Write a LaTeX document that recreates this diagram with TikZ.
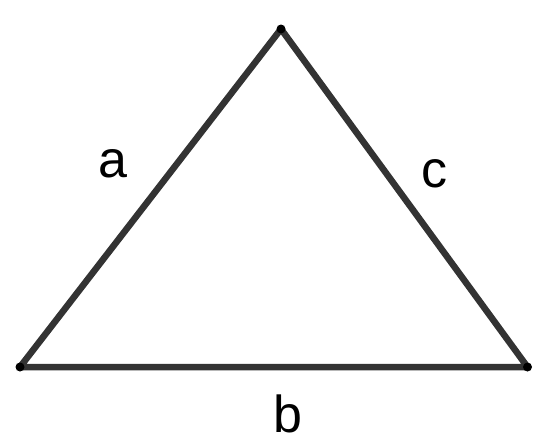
\documentclass[tikz,border=0pt]{standalone}
\usepackage{fontspec}
\setmainfont{Liberation Sans}
\definecolor{edgegray}{HTML}{333333}
\begin{document}
\begin{tikzpicture}[x=1pt, y=-1pt]
		\useasboundingbox (0,0) rectangle (548,447);
		\tikzset{
			side/.style={edgegray, line width=6.5pt, line join=round},
			corner/.style={black},
			lbl/.style={anchor=base, inner sep=0pt, font=\fontsize{52}{52}\selectfont}
		}

		\coordinate (l) at (20,367);
		\coordinate (t) at (281,29);
		\coordinate (r) at (527.5,367);

		\draw[side] (l) -- (t) -- (r) -- cycle;
		\foreach \p in {l, t, r} {
			\fill[corner] (\p) circle (4.5pt);
		}

		\node[lbl] (a) at (113,177) {a};
		\node[lbl] (b) at (287.5,432) {b};
		\node[lbl] (c) at (434.5,187) {c};
	\end{tikzpicture}
\end{document}
